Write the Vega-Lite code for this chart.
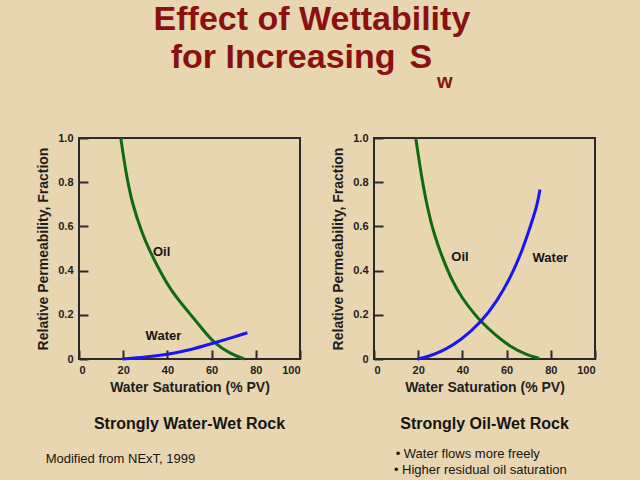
{
  "$schema": "https://vega.github.io/schema/vega-lite/v6.json",
  "background": "#e7d6b0",
  "padding": {"left": 35, "top": 1, "right": 45, "bottom": 12},
  "autosize": {"type": "pad"},
  "bounds": "flush",
  "spacing": 74,
  "config": {
    "font": "Liberation Sans",
    "view": {"stroke": "#2a2a2a", "strokeWidth": 2},
    "axis": {
      "domain": false, "grid": false,
      "tickColor": "#2a2a2a", "tickWidth": 2, "tickSize": -9,
      "labelFont": "Liberation Sans", "labelFontWeight": "bold", "labelFontSize": 11, "labelColor": "#1e1e1e",
      "titleFont": "Liberation Sans", "titleFontWeight": "bold", "titleFontSize": 14, "titleColor": "#1e1e1e"
    },
    "axisX": {"labelPadding": 14, "titlePadding": 5},
    "axisY": {"labelPadding": 15, "titlePadding": 7},
    "text": {"font": "Liberation Sans"}
  },
  "datasets": {
    "waterWet": [
      {"phase": "Oil", "sw": 18.9, "kr": 1.0},
      {"phase": "Oil", "sw": 21.1, "kr": 0.85},
      {"phase": "Oil", "sw": 24.1, "kr": 0.70},
      {"phase": "Oil", "sw": 28.7, "kr": 0.565},
      {"phase": "Oil", "sw": 32.0, "kr": 0.49},
      {"phase": "Oil", "sw": 36.2, "kr": 0.405},
      {"phase": "Oil", "sw": 42.2, "kr": 0.30},
      {"phase": "Oil", "sw": 49.8, "kr": 0.21},
      {"phase": "Oil", "sw": 56.6, "kr": 0.126},
      {"phase": "Oil", "sw": 61.1, "kr": 0.073},
      {"phase": "Oil", "sw": 67.9, "kr": 0.027},
      {"phase": "Oil", "sw": 74.7, "kr": 0.0},
      {"phase": "Water", "sw": 19.6, "kr": 0.0},
      {"phase": "Water", "sw": 30.2, "kr": 0.008},
      {"phase": "Water", "sw": 40.0, "kr": 0.021},
      {"phase": "Water", "sw": 49.8, "kr": 0.039},
      {"phase": "Water", "sw": 61.1, "kr": 0.073},
      {"phase": "Water", "sw": 69.4, "kr": 0.097},
      {"phase": "Water", "sw": 76.2, "kr": 0.119}
    ],
    "waterWetLabels": [
      {"label": "Oil", "sw": 37.4, "kr": 0.486},
      {"label": "Water", "sw": 38.2, "kr": 0.102}
    ],
    "oilWet": [
      {"phase": "Oil", "sw": 18.9, "kr": 1.0},
      {"phase": "Oil", "sw": 21.1, "kr": 0.85},
      {"phase": "Oil", "sw": 23.8, "kr": 0.70},
      {"phase": "Oil", "sw": 27.1, "kr": 0.565},
      {"phase": "Oil", "sw": 30.9, "kr": 0.46},
      {"phase": "Oil", "sw": 35.0, "kr": 0.36},
      {"phase": "Oil", "sw": 40.0, "kr": 0.272},
      {"phase": "Oil", "sw": 45.2, "kr": 0.207},
      {"phase": "Oil", "sw": 48.6, "kr": 0.167},
      {"phase": "Oil", "sw": 54.3, "kr": 0.114},
      {"phase": "Oil", "sw": 61.8, "kr": 0.054},
      {"phase": "Oil", "sw": 69.4, "kr": 0.017},
      {"phase": "Oil", "sw": 74.7, "kr": 0.003},
      {"phase": "Water", "sw": 19.6, "kr": 0.0},
      {"phase": "Water", "sw": 24.1, "kr": 0.009},
      {"phase": "Water", "sw": 31.7, "kr": 0.039},
      {"phase": "Water", "sw": 39.2, "kr": 0.084},
      {"phase": "Water", "sw": 48.6, "kr": 0.167},
      {"phase": "Water", "sw": 55.8, "kr": 0.264},
      {"phase": "Water", "sw": 61.8, "kr": 0.369},
      {"phase": "Water", "sw": 67.1, "kr": 0.49},
      {"phase": "Water", "sw": 71.6, "kr": 0.625},
      {"phase": "Water", "sw": 73.9, "kr": 0.70},
      {"phase": "Water", "sw": 75.1, "kr": 0.767}
    ],
    "oilWetLabels": [
      {"label": "Oil", "sw": 38.9, "kr": 0.462},
      {"label": "Water", "sw": 79.8, "kr": 0.457}
    ]
  },
  "hconcat": [
    {
      "width": 221,
      "height": 221,
      "layer": [
        {
          "data": {"name": "waterWet"},
          "mark": {"type": "line", "interpolate": "basis", "strokeWidth": 3, "clip": false},
          "encoding": {
            "x": {"field": "sw", "type": "quantitative", "scale": {"domain": [0, 100], "nice": false},
                  "axis": {"values": [0, 20, 40, 60, 80, 100], "title": "Water Saturation (% PV)"}},
            "y": {"field": "kr", "type": "quantitative", "scale": {"domain": [0, 1], "nice": false},
                  "axis": {"values": [0, 0.2, 0.4, 0.6, 0.8, 1], "labelExpr": "datum.value == 0 ? '0' : format(datum.value, '.1f')", "title": "Relative Permeability, Fraction"}},
            "color": {"field": "phase", "type": "nominal", "scale": {"domain": ["Oil", "Water"], "range": ["#0f6a14", "#1717f2"]}, "legend": null}
          }
        },
        {
          "data": {"name": "waterWetLabels"},
          "mark": {"type": "text", "fontSize": 13, "fontWeight": "bold", "color": "#151515"},
          "encoding": {
            "x": {"field": "sw", "type": "quantitative"},
            "y": {"field": "kr", "type": "quantitative"},
            "text": {"field": "label"}
          }
        },
        {
          "data": {"values": [{}]},
          "mark": {"type": "text", "text": "Effect of Wettability", "fontSize": 34, "fontWeight": "bold", "color": "#8b1111", "align": "center", "baseline": "alphabetic"},
          "encoding": {"x": {"datum": 105.4, "type": "quantitative"}, "y": {"datum": 1.489, "type": "quantitative"}}
        },
        {
          "data": {"values": [{}]},
          "mark": {"type": "text", "text": "for Increasing", "fontSize": 34, "fontWeight": "bold", "color": "#8b1111", "align": "left", "baseline": "alphabetic"},
          "encoding": {"x": {"datum": 41.5, "type": "quantitative"}, "y": {"datum": 1.317, "type": "quantitative"}}
        },
        {
          "data": {"values": [{}]},
          "mark": {"type": "text", "text": "S", "fontSize": 34, "fontWeight": "bold", "color": "#8b1111", "align": "left", "baseline": "alphabetic"},
          "encoding": {"x": {"datum": 149.5, "type": "quantitative"}, "y": {"datum": 1.317, "type": "quantitative"}}
        },
        {
          "data": {"values": [{}]},
          "mark": {"type": "text", "text": "w", "fontSize": 20, "fontWeight": "bold", "color": "#8b1111", "align": "left", "baseline": "alphabetic"},
          "encoding": {"x": {"datum": 162.0, "type": "quantitative"}, "y": {"datum": 1.2266, "type": "quantitative"}}
        },
        {
          "data": {"values": [{}]},
          "mark": {"type": "text", "text": "Strongly Water-Wet Rock", "fontSize": 16, "fontWeight": "bold", "color": "#151515", "align": "center", "baseline": "alphabetic"},
          "encoding": {"x": {"datum": 50, "type": "quantitative"}, "y": {"datum": -0.318, "type": "quantitative"}}
        },
        {
          "data": {"values": [{}]},
          "mark": {"type": "text", "text": "Modified from NExT, 1999", "fontSize": 13, "color": "#151515", "align": "left", "baseline": "alphabetic"},
          "encoding": {"x": {"datum": -15.1, "type": "quantitative"}, "y": {"datum": -0.472, "type": "quantitative"}}
        }
      ]
    },
    {
      "width": 221,
      "height": 221,
      "layer": [
        {
          "data": {"name": "oilWet"},
          "mark": {"type": "line", "interpolate": "basis", "strokeWidth": 3, "clip": false},
          "encoding": {
            "x": {"field": "sw", "type": "quantitative", "scale": {"domain": [0, 100], "nice": false},
                  "axis": {"values": [0, 20, 40, 60, 80, 100], "title": "Water Saturation (% PV)"}},
            "y": {"field": "kr", "type": "quantitative", "scale": {"domain": [0, 1], "nice": false},
                  "axis": {"values": [0, 0.2, 0.4, 0.6, 0.8, 1], "labelExpr": "datum.value == 0 ? '0' : format(datum.value, '.1f')", "title": "Relative Permeability, Fraction"}},
            "color": {"field": "phase", "type": "nominal", "scale": {"domain": ["Oil", "Water"], "range": ["#0f6a14", "#1717f2"]}, "legend": null}
          }
        },
        {
          "data": {"name": "oilWetLabels"},
          "mark": {"type": "text", "fontSize": 13, "fontWeight": "bold", "color": "#151515"},
          "encoding": {
            "x": {"field": "sw", "type": "quantitative"},
            "y": {"field": "kr", "type": "quantitative"},
            "text": {"field": "label"}
          }
        },
        {
          "data": {"values": [{}]},
          "mark": {"type": "text", "text": "Strongly Oil-Wet Rock", "fontSize": 16, "fontWeight": "bold", "color": "#151515", "align": "center", "baseline": "alphabetic"},
          "encoding": {"x": {"datum": 50, "type": "quantitative"}, "y": {"datum": -0.318, "type": "quantitative"}}
        },
        {
          "data": {"values": [{}]},
          "mark": {"type": "text", "text": "•  Water flows more freely", "fontSize": 13, "color": "#151515", "align": "left", "baseline": "alphabetic"},
          "encoding": {"x": {"datum": 9.8, "type": "quantitative"}, "y": {"datum": -0.45, "type": "quantitative"}}
        },
        {
          "data": {"values": [{}]},
          "mark": {"type": "text", "text": "• Higher residual oil saturation", "fontSize": 13, "color": "#151515", "align": "left", "baseline": "alphabetic"},
          "encoding": {"x": {"datum": 9.0, "type": "quantitative"}, "y": {"datum": -0.519, "type": "quantitative"}}
        }
      ]
    }
  ]
}
